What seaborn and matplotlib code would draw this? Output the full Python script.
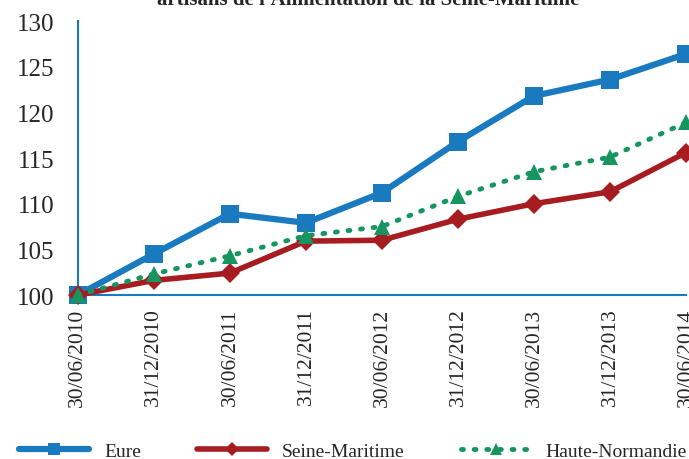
import numpy as np
import pandas as pd
import matplotlib.pyplot as plt
import seaborn as sns

dates = ['30/06/2010', '31/12/2010', '30/06/2011', '31/12/2011', '30/06/2012',
         '31/12/2012', '30/06/2013', '31/12/2013', '30/06/2014']
eure = [100, 104.5, 108.9, 107.9, 111.2, 116.8, 121.8, 123.6, 126.4]
seine_maritime = [100, 101.6, 102.4, 105.9, 106.0, 108.3, 110.0, 111.3, 115.6]
haute_normandie = [100, 102.3, 104.3, 106.5, 107.5, 110.8, 113.5, 115.1, 118.9]

sns.set_style('white')
plt.rcParams['font.family'] = ['Liberation Serif', 'DejaVu Serif']

axis_col = '#1a7abf'

fig = plt.figure(figsize=(6.89, 4.6), dpi=100)
ax = fig.add_axes([0.113, 0.3565, 0.8826, 0.5955])

df = pd.DataFrame({'date': dates, 'Eure': eure,
                   'Seine-Maritime': seine_maritime,
                   'Haute-Normandie': haute_normandie})

sns.lineplot(data=df, x='date', y='Eure', ax=ax, color='#1a7abf', lw=4.5,
             marker='s', markersize=13, markeredgewidth=0, label='Eure', sort=False)
sns.lineplot(data=df, x='date', y='Seine-Maritime', ax=ax, color='#a61c20', lw=4,
             marker='D', markersize=10, markeredgewidth=0, label='Seine-Maritime', sort=False)
sns.lineplot(data=df, x='date', y='Haute-Normandie', ax=ax, color='#179560', lw=3.5,
             linestyle=(0, (0.4, 2.2)), dash_capstyle='round',
             marker='^', markersize=12, markeredgewidth=0, label='Haute-Normandie', sort=False)

ax.set_ylim(100, 130)
ax.set_xlim(0, len(dates) - 1)
ax.set_yticks(np.arange(100, 131, 5))
ax.set_xlabel('')
ax.set_ylabel('')

for s in ['top', 'right']:
    ax.spines[s].set_visible(False)
for s in ['left', 'bottom']:
    ax.spines[s].set_color(axis_col)
    ax.spines[s].set_linewidth(1.5)
    ax.spines[s].set_zorder(0)

ax.tick_params(axis='both', direction='inout', length=10, width=1.5, color=axis_col)
ax.tick_params(axis='y', labelsize=18, pad=12)
ax.tick_params(axis='x', labelsize=15.5, rotation=90, pad=4)
for lab in ax.get_xticklabels():
    lab.set_verticalalignment('top')

for line in ax.lines:
    line.set_clip_on(False)

leg = ax.legend(loc='lower left', bbox_to_anchor=(-0.125, -0.665), ncol=3, frameon=False,
                fontsize=14, handlelength=3.6, columnspacing=2.9, handletextpad=0.75,
                markerscale=0.7)

fig.text(0.535, 1.0, "artisans de l'Alimentation de la Seine-Maritime", ha='center',
         va='center', fontsize=15, fontweight='bold')

fig.savefig('out.png', dpi=100)
